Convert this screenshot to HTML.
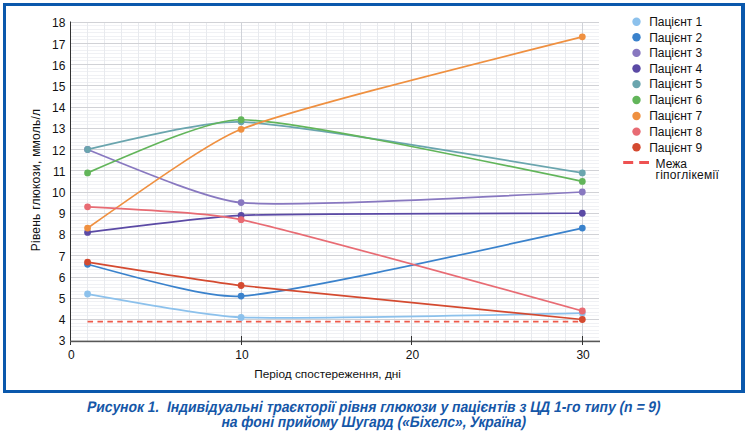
<!DOCTYPE html><html><head><meta charset="utf-8"><style>
html,body{margin:0;padding:0;background:#fff;width:748px;height:435px;overflow:hidden;}
body{position:relative;font-family:"Liberation Sans",sans-serif;}
.frame{position:absolute;left:3px;top:3px;width:735px;height:384px;border:3px solid #0a58ac;border-right-width:4px;}
svg{position:absolute;left:0;top:0;}
.cap{position:absolute;left:0;width:748px;text-align:center;color:#1557a8;font-weight:bold;font-size:15.4px;line-height:16px;transform:scaleX(0.9) skewX(-12deg);}
</style></head><body>
<div class="frame"></div>
<svg width="748" height="435" viewBox="0 0 748 435" font-family="Liberation Sans, sans-serif">
<line x1="71" y1="337.5" x2="599.0" y2="337.5" stroke="#f0f1f4" stroke-width="1"/>
<line x1="71" y1="333.5" x2="599.0" y2="333.5" stroke="#f0f1f4" stroke-width="1"/>
<line x1="71" y1="330.5" x2="599.0" y2="330.5" stroke="#f0f1f4" stroke-width="1"/>
<line x1="71" y1="326.5" x2="599.0" y2="326.5" stroke="#f0f1f4" stroke-width="1"/>
<line x1="71" y1="323.5" x2="599.0" y2="323.5" stroke="#f0f1f4" stroke-width="1"/>
<line x1="71" y1="315.5" x2="599.0" y2="315.5" stroke="#f0f1f4" stroke-width="1"/>
<line x1="71" y1="312.5" x2="599.0" y2="312.5" stroke="#f0f1f4" stroke-width="1"/>
<line x1="71" y1="308.5" x2="599.0" y2="308.5" stroke="#f0f1f4" stroke-width="1"/>
<line x1="71" y1="305.5" x2="599.0" y2="305.5" stroke="#f0f1f4" stroke-width="1"/>
<line x1="71" y1="301.5" x2="599.0" y2="301.5" stroke="#f0f1f4" stroke-width="1"/>
<line x1="71" y1="294.5" x2="599.0" y2="294.5" stroke="#f0f1f4" stroke-width="1"/>
<line x1="71" y1="291.5" x2="599.0" y2="291.5" stroke="#f0f1f4" stroke-width="1"/>
<line x1="71" y1="287.5" x2="599.0" y2="287.5" stroke="#f0f1f4" stroke-width="1"/>
<line x1="71" y1="284.5" x2="599.0" y2="284.5" stroke="#f0f1f4" stroke-width="1"/>
<line x1="71" y1="280.5" x2="599.0" y2="280.5" stroke="#f0f1f4" stroke-width="1"/>
<line x1="71" y1="273.5" x2="599.0" y2="273.5" stroke="#f0f1f4" stroke-width="1"/>
<line x1="71" y1="269.5" x2="599.0" y2="269.5" stroke="#f0f1f4" stroke-width="1"/>
<line x1="71" y1="266.5" x2="599.0" y2="266.5" stroke="#f0f1f4" stroke-width="1"/>
<line x1="71" y1="262.5" x2="599.0" y2="262.5" stroke="#f0f1f4" stroke-width="1"/>
<line x1="71" y1="259.5" x2="599.0" y2="259.5" stroke="#f0f1f4" stroke-width="1"/>
<line x1="71" y1="252.5" x2="599.0" y2="252.5" stroke="#f0f1f4" stroke-width="1"/>
<line x1="71" y1="248.5" x2="599.0" y2="248.5" stroke="#f0f1f4" stroke-width="1"/>
<line x1="71" y1="245.5" x2="599.0" y2="245.5" stroke="#f0f1f4" stroke-width="1"/>
<line x1="71" y1="241.5" x2="599.0" y2="241.5" stroke="#f0f1f4" stroke-width="1"/>
<line x1="71" y1="238.5" x2="599.0" y2="238.5" stroke="#f0f1f4" stroke-width="1"/>
<line x1="71" y1="230.5" x2="599.0" y2="230.5" stroke="#f0f1f4" stroke-width="1"/>
<line x1="71" y1="227.5" x2="599.0" y2="227.5" stroke="#f0f1f4" stroke-width="1"/>
<line x1="71" y1="223.5" x2="599.0" y2="223.5" stroke="#f0f1f4" stroke-width="1"/>
<line x1="71" y1="220.5" x2="599.0" y2="220.5" stroke="#f0f1f4" stroke-width="1"/>
<line x1="71" y1="216.5" x2="599.0" y2="216.5" stroke="#f0f1f4" stroke-width="1"/>
<line x1="71" y1="209.5" x2="599.0" y2="209.5" stroke="#f0f1f4" stroke-width="1"/>
<line x1="71" y1="206.5" x2="599.0" y2="206.5" stroke="#f0f1f4" stroke-width="1"/>
<line x1="71" y1="202.5" x2="599.0" y2="202.5" stroke="#f0f1f4" stroke-width="1"/>
<line x1="71" y1="199.5" x2="599.0" y2="199.5" stroke="#f0f1f4" stroke-width="1"/>
<line x1="71" y1="195.5" x2="599.0" y2="195.5" stroke="#f0f1f4" stroke-width="1"/>
<line x1="71" y1="188.5" x2="599.0" y2="188.5" stroke="#f0f1f4" stroke-width="1"/>
<line x1="71" y1="184.5" x2="599.0" y2="184.5" stroke="#f0f1f4" stroke-width="1"/>
<line x1="71" y1="181.5" x2="599.0" y2="181.5" stroke="#f0f1f4" stroke-width="1"/>
<line x1="71" y1="177.5" x2="599.0" y2="177.5" stroke="#f0f1f4" stroke-width="1"/>
<line x1="71" y1="174.5" x2="599.0" y2="174.5" stroke="#f0f1f4" stroke-width="1"/>
<line x1="71" y1="167.5" x2="599.0" y2="167.5" stroke="#f0f1f4" stroke-width="1"/>
<line x1="71" y1="163.5" x2="599.0" y2="163.5" stroke="#f0f1f4" stroke-width="1"/>
<line x1="71" y1="160.5" x2="599.0" y2="160.5" stroke="#f0f1f4" stroke-width="1"/>
<line x1="71" y1="156.5" x2="599.0" y2="156.5" stroke="#f0f1f4" stroke-width="1"/>
<line x1="71" y1="153.5" x2="599.0" y2="153.5" stroke="#f0f1f4" stroke-width="1"/>
<line x1="71" y1="145.5" x2="599.0" y2="145.5" stroke="#f0f1f4" stroke-width="1"/>
<line x1="71" y1="142.5" x2="599.0" y2="142.5" stroke="#f0f1f4" stroke-width="1"/>
<line x1="71" y1="138.5" x2="599.0" y2="138.5" stroke="#f0f1f4" stroke-width="1"/>
<line x1="71" y1="135.5" x2="599.0" y2="135.5" stroke="#f0f1f4" stroke-width="1"/>
<line x1="71" y1="131.5" x2="599.0" y2="131.5" stroke="#f0f1f4" stroke-width="1"/>
<line x1="71" y1="124.5" x2="599.0" y2="124.5" stroke="#f0f1f4" stroke-width="1"/>
<line x1="71" y1="121.5" x2="599.0" y2="121.5" stroke="#f0f1f4" stroke-width="1"/>
<line x1="71" y1="117.5" x2="599.0" y2="117.5" stroke="#f0f1f4" stroke-width="1"/>
<line x1="71" y1="114.5" x2="599.0" y2="114.5" stroke="#f0f1f4" stroke-width="1"/>
<line x1="71" y1="110.5" x2="599.0" y2="110.5" stroke="#f0f1f4" stroke-width="1"/>
<line x1="71" y1="103.5" x2="599.0" y2="103.5" stroke="#f0f1f4" stroke-width="1"/>
<line x1="71" y1="99.5" x2="599.0" y2="99.5" stroke="#f0f1f4" stroke-width="1"/>
<line x1="71" y1="96.5" x2="599.0" y2="96.5" stroke="#f0f1f4" stroke-width="1"/>
<line x1="71" y1="92.5" x2="599.0" y2="92.5" stroke="#f0f1f4" stroke-width="1"/>
<line x1="71" y1="89.5" x2="599.0" y2="89.5" stroke="#f0f1f4" stroke-width="1"/>
<line x1="71" y1="82.5" x2="599.0" y2="82.5" stroke="#f0f1f4" stroke-width="1"/>
<line x1="71" y1="78.5" x2="599.0" y2="78.5" stroke="#f0f1f4" stroke-width="1"/>
<line x1="71" y1="75.5" x2="599.0" y2="75.5" stroke="#f0f1f4" stroke-width="1"/>
<line x1="71" y1="71.5" x2="599.0" y2="71.5" stroke="#f0f1f4" stroke-width="1"/>
<line x1="71" y1="68.5" x2="599.0" y2="68.5" stroke="#f0f1f4" stroke-width="1"/>
<line x1="71" y1="60.5" x2="599.0" y2="60.5" stroke="#f0f1f4" stroke-width="1"/>
<line x1="71" y1="57.5" x2="599.0" y2="57.5" stroke="#f0f1f4" stroke-width="1"/>
<line x1="71" y1="53.5" x2="599.0" y2="53.5" stroke="#f0f1f4" stroke-width="1"/>
<line x1="71" y1="50.5" x2="599.0" y2="50.5" stroke="#f0f1f4" stroke-width="1"/>
<line x1="71" y1="46.5" x2="599.0" y2="46.5" stroke="#f0f1f4" stroke-width="1"/>
<line x1="71" y1="39.5" x2="599.0" y2="39.5" stroke="#f0f1f4" stroke-width="1"/>
<line x1="71" y1="36.5" x2="599.0" y2="36.5" stroke="#f0f1f4" stroke-width="1"/>
<line x1="71" y1="32.5" x2="599.0" y2="32.5" stroke="#f0f1f4" stroke-width="1"/>
<line x1="71" y1="29.5" x2="599.0" y2="29.5" stroke="#f0f1f4" stroke-width="1"/>
<line x1="71" y1="25.5" x2="599.0" y2="25.5" stroke="#f0f1f4" stroke-width="1"/>
<line x1="87.5" y1="22.0" x2="87.5" y2="340.8" stroke="#e8eaee" stroke-width="1"/>
<line x1="104.5" y1="22.0" x2="104.5" y2="340.8" stroke="#e8eaee" stroke-width="1"/>
<line x1="121.5" y1="22.0" x2="121.5" y2="340.8" stroke="#e8eaee" stroke-width="1"/>
<line x1="138.5" y1="22.0" x2="138.5" y2="340.8" stroke="#e8eaee" stroke-width="1"/>
<line x1="155.5" y1="22.0" x2="155.5" y2="340.8" stroke="#e8eaee" stroke-width="1"/>
<line x1="172.5" y1="22.0" x2="172.5" y2="340.8" stroke="#e8eaee" stroke-width="1"/>
<line x1="189.5" y1="22.0" x2="189.5" y2="340.8" stroke="#e8eaee" stroke-width="1"/>
<line x1="206.5" y1="22.0" x2="206.5" y2="340.8" stroke="#e8eaee" stroke-width="1"/>
<line x1="224.5" y1="22.0" x2="224.5" y2="340.8" stroke="#e8eaee" stroke-width="1"/>
<line x1="241.5" y1="22.0" x2="241.5" y2="340.8" stroke="#cfd2d8" stroke-width="1"/>
<line x1="258.5" y1="22.0" x2="258.5" y2="340.8" stroke="#e8eaee" stroke-width="1"/>
<line x1="275.5" y1="22.0" x2="275.5" y2="340.8" stroke="#e8eaee" stroke-width="1"/>
<line x1="292.5" y1="22.0" x2="292.5" y2="340.8" stroke="#e8eaee" stroke-width="1"/>
<line x1="309.5" y1="22.0" x2="309.5" y2="340.8" stroke="#e8eaee" stroke-width="1"/>
<line x1="326.5" y1="22.0" x2="326.5" y2="340.8" stroke="#e8eaee" stroke-width="1"/>
<line x1="343.5" y1="22.0" x2="343.5" y2="340.8" stroke="#e8eaee" stroke-width="1"/>
<line x1="360.5" y1="22.0" x2="360.5" y2="340.8" stroke="#e8eaee" stroke-width="1"/>
<line x1="377.5" y1="22.0" x2="377.5" y2="340.8" stroke="#e8eaee" stroke-width="1"/>
<line x1="394.5" y1="22.0" x2="394.5" y2="340.8" stroke="#e8eaee" stroke-width="1"/>
<line x1="411.5" y1="22.0" x2="411.5" y2="340.8" stroke="#cfd2d8" stroke-width="1"/>
<line x1="428.5" y1="22.0" x2="428.5" y2="340.8" stroke="#e8eaee" stroke-width="1"/>
<line x1="445.5" y1="22.0" x2="445.5" y2="340.8" stroke="#e8eaee" stroke-width="1"/>
<line x1="462.5" y1="22.0" x2="462.5" y2="340.8" stroke="#e8eaee" stroke-width="1"/>
<line x1="479.5" y1="22.0" x2="479.5" y2="340.8" stroke="#e8eaee" stroke-width="1"/>
<line x1="496.5" y1="22.0" x2="496.5" y2="340.8" stroke="#e8eaee" stroke-width="1"/>
<line x1="514.5" y1="22.0" x2="514.5" y2="340.8" stroke="#e8eaee" stroke-width="1"/>
<line x1="531.5" y1="22.0" x2="531.5" y2="340.8" stroke="#e8eaee" stroke-width="1"/>
<line x1="548.5" y1="22.0" x2="548.5" y2="340.8" stroke="#e8eaee" stroke-width="1"/>
<line x1="565.5" y1="22.0" x2="565.5" y2="340.8" stroke="#e8eaee" stroke-width="1"/>
<line x1="582.5" y1="22.0" x2="582.5" y2="340.8" stroke="#cfd2d8" stroke-width="1"/>
<line x1="71" y1="319.5" x2="599.0" y2="319.5" stroke="#d1d2d6" stroke-width="1"/>
<line x1="71" y1="298.5" x2="599.0" y2="298.5" stroke="#d1d2d6" stroke-width="1"/>
<line x1="71" y1="277.5" x2="599.0" y2="277.5" stroke="#d1d2d6" stroke-width="1"/>
<line x1="71" y1="255.5" x2="599.0" y2="255.5" stroke="#d1d2d6" stroke-width="1"/>
<line x1="71" y1="234.5" x2="599.0" y2="234.5" stroke="#d1d2d6" stroke-width="1"/>
<line x1="71" y1="213.5" x2="599.0" y2="213.5" stroke="#d1d2d6" stroke-width="1"/>
<line x1="71" y1="192.5" x2="599.0" y2="192.5" stroke="#d1d2d6" stroke-width="1"/>
<line x1="71" y1="170.5" x2="599.0" y2="170.5" stroke="#d1d2d6" stroke-width="1"/>
<line x1="71" y1="149.5" x2="599.0" y2="149.5" stroke="#d1d2d6" stroke-width="1"/>
<line x1="71" y1="128.5" x2="599.0" y2="128.5" stroke="#d1d2d6" stroke-width="1"/>
<line x1="71" y1="107.5" x2="599.0" y2="107.5" stroke="#d1d2d6" stroke-width="1"/>
<line x1="71" y1="85.5" x2="599.0" y2="85.5" stroke="#d1d2d6" stroke-width="1"/>
<line x1="71" y1="64.5" x2="599.0" y2="64.5" stroke="#d1d2d6" stroke-width="1"/>
<line x1="71" y1="43.5" x2="599.0" y2="43.5" stroke="#d1d2d6" stroke-width="1"/>
<line x1="71" y1="22.5" x2="599.0" y2="22.5" stroke="#d1d2d6" stroke-width="1"/>
<line x1="70.5" y1="21.5" x2="70.5" y2="345" stroke="#333" stroke-width="1"/>
<rect x="70" y="340.6" width="530.0" height="1.6" fill="#585858"/>
<line x1="241.5" y1="336" x2="241.5" y2="345" stroke="#333" stroke-width="1"/>
<line x1="411.5" y1="336" x2="411.5" y2="345" stroke="#333" stroke-width="1"/>
<line x1="582.5" y1="336" x2="582.5" y2="345" stroke="#333" stroke-width="1"/>
<text x="65.4" y="345.30" font-size="12" text-anchor="end" fill="#111">3</text>
<text x="65.4" y="324.10" font-size="12" text-anchor="end" fill="#111">4</text>
<text x="65.4" y="302.90" font-size="12" text-anchor="end" fill="#111">5</text>
<text x="65.4" y="281.70" font-size="12" text-anchor="end" fill="#111">6</text>
<text x="65.4" y="260.50" font-size="12" text-anchor="end" fill="#111">7</text>
<text x="65.4" y="239.30" font-size="12" text-anchor="end" fill="#111">8</text>
<text x="65.4" y="218.10" font-size="12" text-anchor="end" fill="#111">9</text>
<text x="65.4" y="196.90" font-size="12" text-anchor="end" fill="#111">10</text>
<text x="65.4" y="175.70" font-size="12" text-anchor="end" fill="#111">11</text>
<text x="65.4" y="154.50" font-size="12" text-anchor="end" fill="#111">12</text>
<text x="65.4" y="133.30" font-size="12" text-anchor="end" fill="#111">13</text>
<text x="65.4" y="112.10" font-size="12" text-anchor="end" fill="#111">14</text>
<text x="65.4" y="90.90" font-size="12" text-anchor="end" fill="#111">15</text>
<text x="65.4" y="69.70" font-size="12" text-anchor="end" fill="#111">16</text>
<text x="65.4" y="48.50" font-size="12" text-anchor="end" fill="#111">17</text>
<text x="65.4" y="27.30" font-size="12" text-anchor="end" fill="#111">18</text>
<text x="71.30" y="358.5" font-size="12" text-anchor="middle" fill="#111">0</text>
<text x="241.90" y="358.5" font-size="12" text-anchor="middle" fill="#111">10</text>
<text x="412.50" y="358.5" font-size="12" text-anchor="middle" fill="#111">20</text>
<text x="583.10" y="358.5" font-size="12" text-anchor="middle" fill="#111">30</text>
<text x="327.6" y="378.3" font-size="11.8" text-anchor="middle" fill="#111">Період спостереження, дні</text>
<text transform="translate(39.7,180) rotate(-90)" font-size="12" letter-spacing="0.23" text-anchor="middle" fill="#111">Рівень глюкози, ммоль/л</text>
<line x1="87.56" y1="321.6" x2="582.30" y2="321.6" stroke="#ee5a4a" stroke-width="1.7" stroke-dasharray="5.5,4.4"/>
<path d="M87.56,294.00 C149.49,305.11 211.42,316.23 241.10,317.38 C290.57,319.29 436.44,316.21 582.30,313.12" fill="none" stroke="#8cc1ec" stroke-width="1.7"/>
<circle cx="87.56" cy="294.00" r="3.4" fill="#8cc1ec"/>
<circle cx="241.10" cy="317.38" r="3.4" fill="#8cc1ec"/>
<circle cx="582.30" cy="313.12" r="3.4" fill="#8cc1ec"/>
<path d="M87.56,264.25 C149.49,281.27 211.42,298.29 241.10,296.12 C290.57,292.51 436.44,260.32 582.30,228.12" fill="none" stroke="#3a82cc" stroke-width="1.7"/>
<circle cx="87.56" cy="264.25" r="3.4" fill="#3a82cc"/>
<circle cx="241.10" cy="296.12" r="3.4" fill="#3a82cc"/>
<circle cx="582.30" cy="228.12" r="3.4" fill="#3a82cc"/>
<path d="M87.56,149.50 C149.49,174.79 211.42,200.07 241.10,202.62 C290.57,206.88 436.44,199.44 582.30,192.00" fill="none" stroke="#8878c0" stroke-width="1.7"/>
<circle cx="87.56" cy="149.50" r="3.4" fill="#8878c0"/>
<circle cx="241.10" cy="202.62" r="3.4" fill="#8878c0"/>
<circle cx="582.30" cy="192.00" r="3.4" fill="#8878c0"/>
<path d="M87.56,232.38 C149.49,224.45 211.42,216.52 241.10,215.38 C290.57,213.46 436.44,213.36 582.30,213.25" fill="none" stroke="#5b4aa5" stroke-width="1.7"/>
<circle cx="87.56" cy="232.38" r="3.4" fill="#5b4aa5"/>
<circle cx="241.10" cy="215.38" r="3.4" fill="#5b4aa5"/>
<circle cx="582.30" cy="213.25" r="3.4" fill="#5b4aa5"/>
<path d="M87.56,149.50 C149.49,134.99 211.42,120.47 241.10,121.87 C290.57,124.21 436.44,148.54 582.30,172.88" fill="none" stroke="#6aa5ae" stroke-width="1.7"/>
<circle cx="87.56" cy="149.50" r="3.4" fill="#6aa5ae"/>
<circle cx="241.10" cy="121.87" r="3.4" fill="#6aa5ae"/>
<circle cx="582.30" cy="172.88" r="3.4" fill="#6aa5ae"/>
<path d="M87.56,172.88 C149.49,146.06 211.42,119.24 241.10,119.75 C290.57,120.60 436.44,150.99 582.30,181.38" fill="none" stroke="#62b55a" stroke-width="1.7"/>
<circle cx="87.56" cy="172.88" r="3.4" fill="#62b55a"/>
<circle cx="241.10" cy="119.75" r="3.4" fill="#62b55a"/>
<circle cx="582.30" cy="181.38" r="3.4" fill="#62b55a"/>
<path d="M87.56,228.12 C149.49,184.46 211.42,140.79 241.10,129.31 C290.57,110.19 436.44,73.53 582.30,36.87" fill="none" stroke="#ef9040" stroke-width="1.7"/>
<circle cx="87.56" cy="228.12" r="3.4" fill="#ef9040"/>
<circle cx="241.10" cy="129.31" r="3.4" fill="#ef9040"/>
<circle cx="582.30" cy="36.87" r="3.4" fill="#ef9040"/>
<path d="M87.56,206.87 C149.49,210.13 211.42,213.38 241.10,219.63 C290.57,230.04 436.44,270.52 582.30,311.00" fill="none" stroke="#e86b73" stroke-width="1.7"/>
<circle cx="87.56" cy="206.87" r="3.4" fill="#e86b73"/>
<circle cx="241.10" cy="219.63" r="3.4" fill="#e86b73"/>
<circle cx="582.30" cy="311.00" r="3.4" fill="#e86b73"/>
<path d="M87.56,262.12 C149.49,272.09 211.42,282.06 241.10,285.50 C290.57,291.24 436.44,305.37 582.30,319.50" fill="none" stroke="#d44a30" stroke-width="1.7"/>
<circle cx="87.56" cy="262.12" r="3.4" fill="#d44a30"/>
<circle cx="241.10" cy="285.50" r="3.4" fill="#d44a30"/>
<circle cx="582.30" cy="319.50" r="3.4" fill="#d44a30"/>
<circle cx="636.5" cy="21.8" r="4.2" fill="#8cc1ec"/>
<text x="649.2" y="26.1" font-size="12" fill="#111">Пацієнт 1</text>
<circle cx="636.5" cy="37.3" r="4.2" fill="#3a82cc"/>
<text x="649.2" y="41.6" font-size="12" fill="#111">Пацієнт 2</text>
<circle cx="636.5" cy="52.9" r="4.2" fill="#8878c0"/>
<text x="649.2" y="57.2" font-size="12" fill="#111">Пацієнт 3</text>
<circle cx="636.5" cy="68.5" r="4.2" fill="#5b4aa5"/>
<text x="649.2" y="72.8" font-size="12" fill="#111">Пацієнт 4</text>
<circle cx="636.5" cy="84.1" r="4.2" fill="#6aa5ae"/>
<text x="649.2" y="88.4" font-size="12" fill="#111">Пацієнт 5</text>
<circle cx="636.5" cy="100.0" r="4.2" fill="#62b55a"/>
<text x="649.2" y="104.3" font-size="12" fill="#111">Пацієнт 6</text>
<circle cx="636.5" cy="116.0" r="4.2" fill="#ef9040"/>
<text x="649.2" y="120.3" font-size="12" fill="#111">Пацієнт 7</text>
<circle cx="636.5" cy="131.6" r="4.2" fill="#e86b73"/>
<text x="649.2" y="135.9" font-size="12" fill="#111">Пацієнт 8</text>
<circle cx="636.5" cy="147.2" r="4.2" fill="#d44a30"/>
<text x="649.2" y="151.5" font-size="12" fill="#111">Пацієнт 9</text>
<line x1="623.2" y1="162.6" x2="649" y2="162.6" stroke="#ee5252" stroke-width="3" stroke-dasharray="10,6"/>
<text x="655.5" y="167.8" font-size="12" fill="#111">Межа</text>
<text x="655.5" y="179.1" font-size="12" letter-spacing="0.27" fill="#111">гіпоглікемії</text>
</svg>
<div class="cap" style="top:399px">Рисунок 1.&nbsp; Індивідуальні траєкторії рівня глюкози у пацієнтів з ЦД 1-го типу (n = 9)</div>
<div class="cap" style="top:414px">на фоні прийому Шугард («Біхелс», Україна)</div>
</body></html>
